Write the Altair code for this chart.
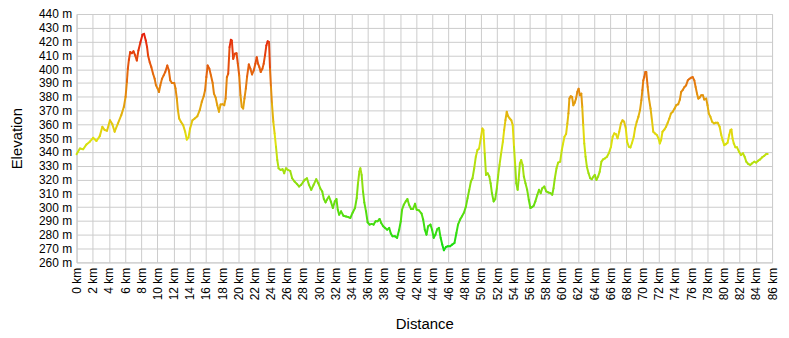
import altair as alt
import pandas as pd

# Distance along the route (km)
distance_km = [
    0.0, 0.41, 0.82, 1.23, 1.64, 2.05, 2.46, 2.87, 3.19, 3.48, 3.77, 4.13, 4.42, 4.71, 5.12, 5.53,
    5.85, 6.06, 6.22, 6.34, 6.47, 6.63, 6.84, 7.04, 7.25, 7.45, 7.65, 7.9, 8.15, 8.35, 8.56, 8.72,
    8.84, 9.05, 9.25, 9.46, 9.66, 9.82, 10.03, 10.19, 10.36, 10.56, 10.77, 10.97, 11.22, 11.42,
    11.58, 11.79, 12.08, 12.24, 12.4, 12.53, 12.69, 12.89, 13.18, 13.43, 13.63, 13.84, 14.04,
    14.33, 14.61, 14.94, 15.23, 15.48, 15.72, 15.89, 16.05, 16.21, 16.42, 16.62, 16.83, 16.99,
    17.2, 17.4, 17.61, 17.81, 18.06, 18.26, 18.43, 18.59, 18.75, 18.92, 19.08, 19.2, 19.37, 19.57,
    19.78, 19.94, 20.11, 20.27, 20.43, 20.6, 20.76, 20.93, 21.09, 21.3, 21.5, 21.7, 21.91, 22.11,
    22.28, 22.44, 22.61, 22.77, 22.98, 23.14, 23.3, 23.47, 23.63, 23.8, 23.92, 24.04, 24.16, 24.33,
    24.49, 24.66, 24.82, 24.98, 25.23, 25.48, 25.68, 25.89, 26.13, 26.42, 26.66, 26.95, 27.24,
    27.52, 27.77, 28.06,
    28.2, 28.49, 28.74, 29.02, 29.31, 29.64, 29.89, 30.13, 30.38, 30.58, 30.79, 30.95, 31.2, 31.44,
    31.69, 31.93, 32.14, 32.3, 32.47, 32.71, 33.0, 33.33, 33.61, 33.86, 34.15, 34.43, 34.64, 34.8,
    34.97, 35.09, 35.25, 35.42, 35.58, 35.79, 35.99, 36.24, 36.48, 36.73, 36.98, 37.22, 37.47,
    37.67, 37.92, 38.16, 38.41, 38.66, 38.86, 39.07, 39.35, 39.64, 39.89, 40.09, 40.25, 40.46,
    40.7, 40.91, 41.11, 41.36, 41.61, 41.85, 42.06, 42.34,
    42.66, 42.86, 43.06, 43.27, 43.47, 43.76, 43.96, 44.16, 44.37, 44.61, 44.81, 45.02, 45.22,
    45.42, 45.67, 45.91, 46.2, 46.44, 46.73, 46.97, 47.17, 47.42, 47.66, 47.91, 48.15, 48.35,
    48.56, 48.76, 48.96, 49.17, 49.37, 49.57, 49.78, 49.98, 50.18, 50.31, 50.47, 50.63, 50.83,
    51.04, 51.2, 51.36, 51.57, 51.77, 51.97, 52.14, 52.3, 52.5, 52.71, 52.87, 53.03, 53.19, 53.36,
    53.56, 53.76, 53.93, 54.09, 54.25, 54.37, 54.54, 54.66, 54.82, 54.98, 55.15, 55.31, 55.51,
    55.72, 55.92, 56.12, 56.33, 56.53, 56.73,
    56.98, 57.18, 57.39, 57.59, 57.84, 58.08, 58.33, 58.61, 58.82, 58.98, 59.14, 59.35, 59.55,
    59.8, 60.0, 60.16, 60.33, 60.53, 60.69, 60.82, 60.94, 61.1, 61.27, 61.43, 61.59, 61.76, 61.92,
    62.08, 62.24, 62.41, 62.53, 62.65, 62.78, 62.94, 63.1, 63.31, 63.51, 63.71, 63.92, 64.08,
    64.29, 64.49, 64.69, 64.9, 65.1, 65.35, 65.59, 65.84, 66.08, 66.29, 66.49, 66.69, 66.9, 67.1,
    67.31, 67.51, 67.71, 67.92, 68.08, 68.29, 68.49, 68.69, 68.9, 69.06, 69.27, 69.47, 69.67,
    69.84, 69.96, 70.08, 70.2, 70.33, 70.45,
    70.62, 70.78, 70.98, 71.15, 71.31, 71.51, 71.76, 71.96, 72.12, 72.28, 72.45, 72.69, 72.89,
    73.1, 73.3, 73.5, 73.71, 73.95, 74.15, 74.4, 74.6, 74.76, 74.97, 75.17, 75.37, 75.58, 75.78,
    75.98, 76.18, 76.39, 76.55, 76.72, 76.88, 77.04, 77.24, 77.45, 77.61, 77.85, 78.02, 78.18,
    78.38, 78.59, 78.83, 79.03, 79.28, 79.52, 79.72, 79.89, 80.09, 80.29, 80.5, 80.7, 80.86,
    80.98, 81.11, 81.27, 81.47, 81.67, 81.92, 82.16, 82.41, 82.61, 82.81, 83.06, 83.3, 83.54,
    83.79, 84.03, 84.28, 84.52, 84.76, 85.01, 85.29, 85.46,
]

# Elevation (m)
elevation_m = [
    338.4, 342.6, 342.0, 345.5, 347.5, 350.3, 348.0, 351.5, 358.3, 355.9, 355.4, 363.0, 360.2, 354.7,
    360.7, 366.7, 372.7, 380.0, 390.7, 400.3, 406.8, 412.4, 411.6, 413.0, 410.0, 406.3, 413.6,
    419.6, 425.0, 425.6, 420.8, 416.0, 410.0, 405.0, 401.5, 396.7, 393.0, 388.3, 386.0, 383.5,
    388.3, 393.0, 395.5, 398.0, 402.7, 399.0, 392.0, 390.0, 390.0, 386.0, 378.7, 370.3, 364.3,
    362.0, 359.5, 354.7, 349.0, 350.6, 357.0,
    363.0, 364.3, 366.0, 370.3, 376.3, 380.4, 384.7, 394.3, 402.7, 400.3, 395.5, 390.0, 382.3,
    379.4, 373.9, 369.1, 374.4, 374.6, 373.9, 378.7, 394.3, 396.7, 416.0, 421.3, 420.8, 407.5,
    411.2, 411.6, 404.0, 395.5, 381.1, 372.7, 371.5, 378.7, 386.0, 394.8, 403.5, 400.3, 396.2,
    399.1, 404.0, 408.7, 404.0, 401.5, 398.0, 400.3, 404.0, 410.0, 417.2, 420.3, 419.6, 400.3,
    387.1, 375.1, 361.9, 353.5, 343.8, 334.2, 328.2, 327.0, 327.5, 324.6, 328.2, 327.0, 326.3,
    321.0, 318.6, 316.9, 315.0, 316.2, 318.6,
    319.8, 321.0, 316.2, 312.6, 316.2, 320.3, 317.4, 313.8, 311.4, 305.9, 303.5, 305.4, 307.8,
    304.2, 299.4, 304.2, 305.9, 298.2, 294.6, 297.0, 293.8, 293.3, 292.8, 292.2, 296.2, 299.4,
    306.6, 317.4, 325.8, 328.2, 323.4, 311.4, 303.5, 297.0, 289.1, 287.4, 287.9, 287.4, 289.8,
    289.8, 291.5, 288.6, 286.2, 285.0, 283.7, 285.0, 280.9, 279.0, 279.0, 277.8, 283.7, 289.8,
    298.2, 301.8, 304.2, 305.9, 301.8, 298.7, 298.7, 302.5, 298.2, 297.7,
    295.4, 291.0, 283.7, 280.1, 286.2, 287.4, 283.7, 277.8, 280.1, 284.2, 285.0, 277.8, 272.9,
    268.8, 271.2, 271.7, 271.7, 272.9, 274.1, 281.3, 287.4, 291.0, 293.4, 296.2, 300.6, 306.6,
    312.6, 318.6, 321.0, 328.2, 336.6, 341.4, 342.6, 349.9, 357.0, 355.9, 339.0, 323.4, 324.6,
    322.2, 317.4, 310.2, 304.2, 305.9, 313.8, 323.4, 330.6, 339.0, 347.4, 355.9, 363.0, 369.1,
    366.0, 364.3, 363.0, 359.5, 343.8, 329.4, 317.4, 312.6, 319.8, 331.8, 334.2, 330.6, 322.2,
    317.4, 312.6, 305.4, 299.4, 300.1, 301.1, 304.2,
    309.0, 312.6, 310.2, 313.8, 315.0, 311.4, 310.7, 310.2, 309.0, 313.8, 321.0, 328.2, 332.3,
    333.0, 341.4, 346.2, 351.1, 353.0, 360.7, 367.9, 378.7, 380.4, 379.9, 373.9, 375.6, 378.7,
    383.5, 385.9, 381.1, 382.3, 372.7, 359.5, 346.2, 336.6, 329.4, 324.6, 321.0, 320.3, 322.2,
    323.4, 319.8, 322.2, 325.8, 333.0, 334.6, 335.4, 336.6, 339.5, 343.8, 351.1, 353.5, 353.0,
    349.9, 354.7, 360.7, 363.0, 361.9, 357.0, 347.4, 343.8, 343.3, 346.7, 351.1, 357.0, 361.9,
    365.5, 370.3, 377.5, 384.7, 391.9, 394.3, 397.9, 397.9,
    387.1, 378.7, 371.5, 363.0, 354.7, 353.5, 352.3, 349.9, 346.2, 348.6, 354.7, 356.3, 358.3,
    361.2, 364.3, 367.9, 369.1, 371.5, 373.9, 374.6, 378.0, 383.5, 385.1, 387.1, 388.3, 391.9,
    393.0, 393.8, 394.3, 391.9, 387.1, 382.3, 378.7, 379.4, 381.1, 381.1, 378.0, 378.7, 373.9,
    367.8, 365.5, 361.9, 360.7, 361.2, 361.2, 358.3, 352.3, 348.6, 345.0, 345.7, 346.7, 352.3,
    355.9, 356.3, 349.9, 346.2, 343.4, 343.4, 340.2, 337.8, 339.0, 336.6, 333.0, 331.3, 330.6,
    331.8, 333.0, 332.3, 333.7, 334.6, 336.1, 337.1, 338.6, 338.6,
]

x_ticks = list(range(0, 87, 2))
y_ticks = list(range(260, 441, 10))

df = pd.DataFrame({"km": distance_km, "elev": elevation_m})
df["km2"] = df["km"].shift(-1)
df["elev2"] = df["elev"].shift(-1)
df = df.dropna()
df["mid"] = (df["elev"] + df["elev2"]) / 2

chart = (
    alt.Chart(df)
    .mark_rule(strokeWidth=2, strokeCap="round")
    .encode(
        x=alt.X(
            "km:Q",
            scale=alt.Scale(domain=[0, 86], nice=False, zero=False),
            axis=alt.Axis(
                title="Distance",
                values=x_ticks,
                labelExpr="datum.value + ' km'",
                labelAngle=-90,
                labelAlign="right",
                labelBaseline="middle",
                labelOverlap=False,
                labelFlush=False,
                labelPadding=5,
                titleX=350,
                titleY=67,
                titleBaseline="alphabetic",
            ),
        ),
        x2="km2:Q",
        y=alt.Y(
            "elev:Q",
            scale=alt.Scale(domain=[260, 440], nice=False, zero=False),
            axis=alt.Axis(
                title="Elevation",
                values=y_ticks,
                labelExpr="datum.value + ' m'",
                labelOverlap=False,
                labelFlush=False,
                labelPadding=5,
                titleX=-55,
                titleY=125,
                titleAlign="center",
                titleBaseline="alphabetic",
                titleAngle=270,
            ),
        ),
        y2="elev2:Q",
        color=alt.Color(
            "mid:Q",
            scale=alt.Scale(
                domain=[268, 426],
                range=["#10dc10", "#e61a0c"],
                interpolate="hsl",
            ),
            legend=None,
        ),
    )
    .properties(
        width=700,
        height=250,
        autosize=alt.AutoSizeParams(type="none"),
        padding={"left": 69, "top": 5, "right": 9, "bottom": 70},
    )
    .configure_axis(
        grid=True,
        gridColor="#cccccc",
        gridWidth=1,
        domain=False,
        ticks=False,
        tickSize=0,
        labelFont="Liberation Sans",
        labelFontSize=12,
        labelColor="#000000",
        titleFont="Liberation Sans",
        titleFontSize=15,
        titleFontWeight="normal",
        titleColor="#000000",
    )
    .configure_view(stroke="#cccccc")
)

chart.save("out.html", embed_options={"renderer": "svg", "actions": False})
